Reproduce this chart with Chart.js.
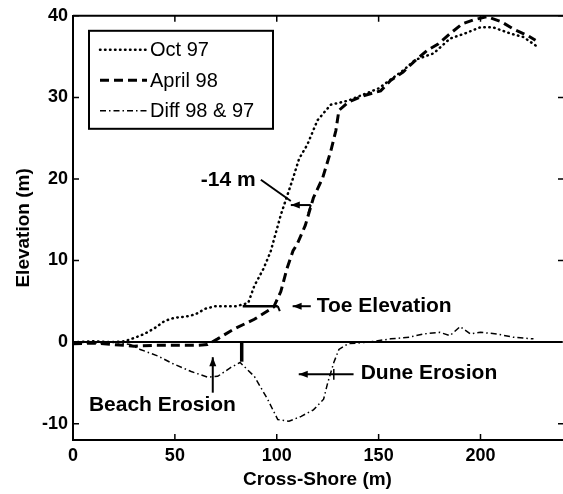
<!DOCTYPE html>
<html>
<head>
<meta charset="utf-8">
<script src="https://cdn.jsdelivr.net/npm/chart.js@4.4.1/dist/chart.umd.min.js"></script>
<style>
body { margin: 0; background: #fff; }
</style>
</head>
<body>
<canvas id="myChart" width="563" height="494"></canvas>
<script>
// profile data (cross-shore m, elevation m)
const octX = [0, 10, 20, 25, 30, 35, 40, 45, 50, 55, 60, 65, 70, 75, 80, 86, 89, 93.5, 97, 102, 108, 111, 115, 120, 126.5, 135, 142, 150, 156, 162, 168, 177, 185, 192, 200, 206, 215, 221, 228];
const octY = [0, 0.1, 0, 0.1, 0.5, 1.0, 1.7, 2.6, 3.0, 3.1, 3.4, 4.1, 4.4, 4.4, 4.4, 4.8, 6.9, 9.0, 11.1, 15.6, 20.1, 22.5, 24.2, 27.2, 29.1, 29.6, 30.3, 31.1, 32.2, 33.3, 34.6, 35.4, 37.2, 37.8, 38.6, 38.6, 37.8, 37.4, 36.2];

const aprX = [0, 10, 20, 30, 40, 50, 60, 66, 71, 79, 89, 98.5, 102, 105, 108, 110, 114, 118, 122.5, 126.5, 129, 130.5, 135, 142.6, 151, 156, 162, 167, 174, 179, 185, 191, 196.6, 203, 210, 216, 223, 227];
const aprY = [-0.2, -0.1, -0.3, -0.5, -0.4, -0.4, -0.4, -0.3, 0.4, 1.6, 2.8, 4.3, 6.2, 9.0, 11.2, 12.0, 14.3, 17.7, 20.1, 23.4, 25.9, 28.4, 29.4, 30.2, 30.8, 32.1, 33.1, 34.3, 35.8, 36.5, 37.8, 39.0, 39.5, 39.9, 39.3, 38.4, 37.6, 37.0];

const diffX = [0, 10, 20, 28, 33, 41.6, 49.5, 58, 66, 71, 77.5, 82, 89, 95.5, 100.5, 106, 112, 118, 123, 125, 128, 130.5, 135, 145, 156, 165, 172, 180, 185, 190, 195, 200, 208, 216, 226];
const diffY = [0, -0.1, 0, -0.3, -0.9, -1.7, -2.7, -3.6, -4.3, -4.2, -3.1, -2.5, -4.2, -7.0, -9.5, -9.7, -9.1, -8.3, -7.0, -5.0, -2.5, -0.9, -0.2, 0, 0.4, 0.6, 1.0, 1.2, 0.8, 1.9, 1.0, 1.2, 1.0, 0.6, 0.4];

const zeroX = [0, 240];
const zeroY = [0, 0];

const xTicks = [0, 50, 100, 150, 200];
const yTicks = [-10, 0, 10, 20, 30, 40];

const seriesNames = ['Oct 97', 'April 98', 'Diff 98 & 97'];

function toPoints(xs, ys) {
    return xs.map((x, i) => ({ x: x, y: ys[i] }));
}

// notes on the figure, in data units
const notes = [
    { text: '-14 m', x: 62.7, y: 19.9 },
    { text: 'Toe Elevation', x: 119.6, y: 4.4 },
    { text: 'Dune Erosion', x: 141.2, y: -3.8 },
    { text: 'Beach Erosion', x: 7.8, y: -7.7 }
];
const noteLines = [
    { from: [92.2, 19.9], to: [106.9, 17.3], head: false, w: 2 },
    { from: [116.7, 16.8], to: [106.9, 16.8], head: true, w: 2 },
    { from: [116.7, 16.8], to: [115.5, 15.8], head: false, w: 2 },
    { from: [83.3, 4.4], to: [100.5, 4.4], head: false, w: 2.5 },
    { from: [100.5, 4.4], to: [101.5, 3.8], head: false, w: 2 },
    { from: [116.7, 4.4], to: [107.8, 4.4], head: true, w: 2 },
    { from: [82.8, 0], to: [82.8, -2.4], head: false, w: 3.5 },
    { from: [137.7, -3.95], to: [110.8, -3.95], head: true, w: 2 },
    { from: [128, -3.3], to: [128, -4.6], head: false, w: 1.5 },
    { from: [68.6, -6.2], to: [68.6, -1.85], head: true, w: 2 }
];

const FONT = "'Liberation Sans', Arial, sans-serif";

function arrow(ctx, x1, y1, x2, y2, head, w) {
    ctx.save();
    ctx.strokeStyle = '#000';
    ctx.fillStyle = '#000';
    ctx.lineWidth = w;
    ctx.beginPath();
    ctx.moveTo(x1, y1);
    ctx.lineTo(x2, y2);
    ctx.stroke();
    if (head) {
        let a = Math.atan2(y2 - y1, x2 - x1);
        ctx.beginPath();
        ctx.moveTo(x2, y2);
        ctx.lineTo(x2 - 9 * Math.cos(a) + 3.5 * Math.sin(a), y2 - 9 * Math.sin(a) - 3.5 * Math.cos(a));
        ctx.lineTo(x2 - 9 * Math.cos(a) - 3.5 * Math.sin(a), y2 - 9 * Math.sin(a) + 3.5 * Math.cos(a));
        ctx.closePath();
        ctx.fill();
    }
    ctx.restore();
}

const extras = {
    id: 'extras',
    afterDatasetsDraw(chart) {
        const ctx = chart.ctx;
        const xs = chart.scales.x;
        const ys = chart.scales.y;
        const area = chart.chartArea;

        // box top + inward ticks on all sides
        ctx.save();
        ctx.strokeStyle = '#000';
        ctx.lineWidth = 2;
        ctx.beginPath();
        ctx.moveTo(area.left, area.top);
        ctx.lineTo(area.right + 2, area.top);
        ctx.stroke();
        ctx.lineWidth = 1.5;
        xTicks.forEach(v => {
            let px = xs.getPixelForValue(v);
            ctx.beginPath();
            ctx.moveTo(px, area.bottom);
            ctx.lineTo(px, area.bottom - 6);
            ctx.moveTo(px, area.top);
            ctx.lineTo(px, area.top + 6);
            ctx.stroke();
        });
        yTicks.forEach(v => {
            let py = ys.getPixelForValue(v);
            ctx.beginPath();
            ctx.moveTo(area.left, py);
            ctx.lineTo(area.left + 6, py);
            ctx.moveTo(area.right + 1, py);
            ctx.lineTo(area.right - 4, py);
            ctx.stroke();
        });
        ctx.restore();

        // notes
        noteLines.forEach(l => {
            arrow(ctx, xs.getPixelForValue(l.from[0]), ys.getPixelForValue(l.from[1]),
                xs.getPixelForValue(l.to[0]), ys.getPixelForValue(l.to[1]), l.head, l.w);
        });
        ctx.save();
        ctx.fillStyle = '#000';
        ctx.font = 'bold 21px ' + FONT;
        ctx.textAlign = 'left';
        ctx.textBaseline = 'middle';
        notes.forEach(n => {
            ctx.fillText(n.text, xs.getPixelForValue(n.x), ys.getPixelForValue(n.y));
        });
        ctx.restore();

        // legend box inside the axes
        const lx = area.left + 16, ly = area.top + 15, lw = 184, lh = 98;
        ctx.save();
        ctx.fillStyle = '#fff';
        ctx.fillRect(lx, ly, lw, lh);
        ctx.strokeStyle = '#000';
        ctx.lineWidth = 2;
        ctx.strokeRect(lx, ly, lw, lh);
        ctx.font = '20px ' + FONT;
        ctx.textBaseline = 'middle';
        ctx.fillStyle = '#000';
        for (let i = 0; i < 3; i++) {
            const ds = chart.data.datasets[i];
            const yy = ly + 19 + i * 30.5;
            ctx.save();
            ctx.strokeStyle = '#000';
            ctx.lineWidth = ds.borderWidth;
            ctx.lineCap = ds.borderCapStyle || 'butt';
            ctx.setLineDash(ds.borderDash);
            ctx.beginPath();
            ctx.moveTo(lx + 11, yy);
            ctx.lineTo(lx + 58, yy);
            ctx.stroke();
            ctx.restore();
            ctx.fillText(ds.label, lx + 61, yy + 1);
        }
        ctx.restore();
    }
};

const ctx = document.getElementById('myChart').getContext('2d');
const myChart = new Chart(ctx, {
    type: 'line',
    data: {
        datasets: [
            {
                label: seriesNames[0],
                data: toPoints(octX, octY),
                borderColor: '#000',
                borderWidth: 2.5,
                borderDash: [0.5, 4.5],
                borderCapStyle: 'round',
                pointRadius: 0,
                tension: 0
            },
            {
                label: seriesNames[1],
                data: toPoints(aprX, aprY),
                borderColor: '#000',
                borderWidth: 3,
                borderDash: [9, 5],
                pointRadius: 0,
                tension: 0
            },
            {
                label: seriesNames[2],
                data: toPoints(diffX, diffY),
                borderColor: '#000',
                borderWidth: 1.5,
                borderDash: [6, 3, 1.5, 3],
                pointRadius: 0,
                tension: 0
            },
            {
                label: 'zero',
                data: toPoints(zeroX, zeroY),
                borderColor: '#000',
                borderWidth: 2,
                pointRadius: 0
            }
        ]
    },
    options: {
        responsive: false,
        animation: false,
        devicePixelRatio: 1,
        layout: { padding: { left: 0, top: 15, right: 1, bottom: 0 } },
        plugins: {
            legend: { display: false },
            tooltip: { enabled: false }
        },
        scales: {
            x: {
                type: 'linear',
                min: 0,
                max: 240,
                afterBuildTicks: s => { s.ticks = xTicks.map(v => ({ value: v })); },
                afterFit: s => { s.height = 54; },
                grid: { display: true, drawOnChartArea: false, drawTicks: false },
                border: { display: true, color: '#000', width: 2 },
                ticks: {
                    color: '#000',
                    padding: 5,
                    font: { family: FONT, size: 18, weight: 'bold' }
                },
                title: {
                    display: true,
                    text: 'Cross-Shore (m)',
                    color: '#000',
                    padding: { top: 0, bottom: 3 },
                    font: { family: FONT, size: 19, weight: 'bold' }
                }
            },
            y: {
                type: 'linear',
                min: -12,
                max: 40,
                afterBuildTicks: s => { s.ticks = yTicks.map(v => ({ value: v })); },
                afterFit: s => { s.width = 73; },
                grid: { display: true, drawOnChartArea: false, drawTicks: false },
                border: { display: true, color: '#000', width: 2 },
                ticks: {
                    color: '#000',
                    padding: 5,
                    font: { family: FONT, size: 18, weight: 'bold' }
                },
                title: {
                    display: true,
                    text: 'Elevation (m)',
                    color: '#000',
                    padding: { top: 12, bottom: 0 },
                    font: { family: FONT, size: 19, weight: 'bold' }
                }
            }
        }
    },
    plugins: [extras]
});
</script>
</body>
</html>
